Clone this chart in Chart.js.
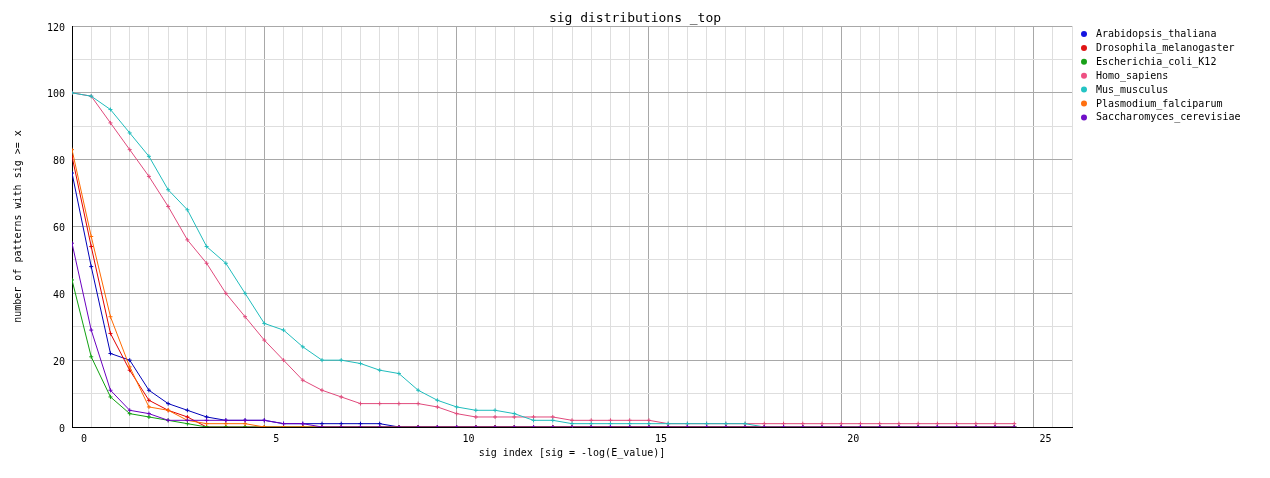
<!DOCTYPE html>
<html>
<head>
<meta charset="utf-8">
<script src="https://cdn.jsdelivr.net/npm/chart.js@4.4.1/dist/chart.umd.min.js"></script>
<style>
    html, body { margin: 0; padding: 0; background: #fff; }
    #wrap { width: 1270px; height: 478px; }
</style>
</head>
<body>
<div id="wrap"><canvas id="sigChart" width="1270" height="478"></canvas></div>
<script>
// sig index (x) values
const sigIndex = [0, 0.5, 1, 1.5, 2, 2.5, 3, 3.5, 4, 4.5, 5, 5.5, 6, 6.5, 7, 7.5, 8, 8.5, 9, 9.5,
    10, 10.5, 11, 11.5, 12, 12.5, 13, 13.5, 14, 14.5, 15, 15.5, 16, 16.5, 17, 17.5, 18, 18.5, 19, 19.5,
    20, 20.5, 21, 21.5, 22, 22.5, 23, 23.5, 24, 24.5];

const speciesNames = ["Arabidopsis_thaliana", "Drosophila_melanogaster", "Escherichia_coli_K12",
    "Homo_sapiens", "Mus_musculus", "Plasmodium_falciparum", "Saccharomyces_cerevisiae"];

// number of patterns with sig >= x
const arabidopsis = [76, 48, 22, 20, 11, 7, 5, 3, 2, 2, 2, 1, 1, 1, 1, 1, 1, 0, 0, 0,
    0, 0, 0, 0, 0, 0, 0, 0, 0, 0, 0, 0, 0, 0, 0, 0, 0, 0, 0, 0,
    0, 0, 0, 0, 0, 0, 0, 0, 0, 0];
const drosophila = [81, 54, 28, 17, 8, 5, 3, 0, 0, 0, 0, 0, 0, 0, 0, 0, 0, 0, 0, 0,
    0, 0, 0, 0, 0, 0, 0, 0, 0, 0, 0, 0, 0, 0, 0, 0, 0, 0, 0, 0,
    0, 0, 0, 0, 0, 0, 0, 0, 0, 0];
const ecoli = [44, 21, 9, 4, 3, 2, 1, 0, 0, 0, 0, 0, 0, 0, 0, 0, 0, 0, 0, 0,
    0, 0, 0, 0, 0, 0, 0, 0, 0, 0, 0, 0, 0, 0, 0, 0, 0, 0, 0, 0,
    0, 0, 0, 0, 0, 0, 0, 0, 0, 0];
const homo = [100, 99, 91, 83, 75, 66, 56, 49, 40, 33, 26, 20, 14, 11, 9, 7, 7, 7, 7, 6,
    4, 3, 3, 3, 3, 3, 2, 2, 2, 2, 2, 1, 1, 1, 1, 1, 1, 1, 1, 1,
    1, 1, 1, 1, 1, 1, 1, 1, 1, 1];
const mus = [100, 99, 95, 88, 81, 71, 65, 54, 49, 40, 31, 29, 24, 20, 20, 19, 17, 16, 11, 8,
    6, 5, 5, 4, 2, 2, 1, 1, 1, 1, 1, 1, 1, 1, 1, 1, 0, 0, 0, 0,
    0, 0, 0, 0, 0, 0, 0, 0, 0, 0];
const plasmodium = [83, 57, 33, 18, 6, 5, 2, 1, 1, 1, 0, 0, 0, 0, 0, 0, 0, 0, 0, 0,
    0, 0, 0, 0, 0, 0, 0, 0, 0, 0, 0, 0, 0, 0, 0, 0, 0, 0, 0, 0,
    0, 0, 0, 0, 0, 0, 0, 0, 0, 0];
const saccharomyces = [55, 29, 11, 5, 4, 2, 2, 2, 2, 2, 2, 1, 1, 0, 0, 0, 0, 0, 0, 0,
    0, 0, 0, 0, 0, 0, 0, 0, 0, 0, 0, 0, 0, 0, 0, 0, 0, 0, 0, 0,
    0, 0, 0, 0, 0, 0, 0, 0, 0, 0];

const seriesValues = [arabidopsis, drosophila, ecoli, homo, mus, plasmodium, saccharomyces];
const lineColors = ["#0000b8", "#e00000", "#10a010", "#e04a7c", "#20bcbc", "#ff6a00", "#6a00c0"];
const dotColors = ["#1414e0", "#e01414", "#18a018", "#ee5082", "#24c4c4", "#ff7010", "#7010c8"];

const monoFont = "'DejaVu Sans Mono', 'Liberation Mono', monospace";

// title + legend drawn by hand, the old chart had them in fixed spots
const extrasPlugin = {
    id: "extras",
    afterDraw(chart) {
        const ctx = chart.ctx;
        ctx.save();
        ctx.fillStyle = "#000";
        ctx.font = "13px " + monoFont;
        ctx.textAlign = "center";
        ctx.textBaseline = "middle";
        ctx.fillText("sig distributions _top", 635, 19);

        ctx.font = "10px " + monoFont;
        ctx.textAlign = "left";
        chart.data.datasets.forEach((ds, i) => {
            let y = 34 + i * 13.9;
            ctx.fillStyle = dotColors[i];
            ctx.beginPath();
            ctx.arc(1084, y, 3, 0, Math.PI * 2);
            ctx.fill();
            ctx.fillStyle = "#000";
            ctx.fillText(ds.label, 1096, y + 0.5);
        });
        ctx.restore();
    },
};

const ctx = document.getElementById("sigChart");

new Chart(ctx, {
    type: "line",
    data: {
        datasets: speciesNames.map((name, i) => {
            return {
                label: name,
                data: sigIndex.map((x, j) => ({x: x, y: seriesValues[i][j]})),
                borderColor: lineColors[i],
                backgroundColor: lineColors[i],
                borderWidth: 1,
                pointStyle: "cross",
                pointRadius: 2,
                pointBorderWidth: 1,
                tension: 0,
                fill: false,
                order: speciesNames.length - i,
            };
        }),
    },
    options: {
        responsive: false,
        animation: false,
        layout: {
            padding: {top: 26, right: 198, bottom: 0, left: 0},
        },
        scales: {
            x: {
                type: "linear",
                min: 0,
                max: 26,
                afterFit: (scale) => { scale.height = 51; },
                grid: {
                    drawTicks: false,
                    color: (c) => (c.tick.value % 5 === 0 ? "#a8a8a8" : "#dedede"),
                },
                border: {color: "#000", width: 1},
                ticks: {
                    stepSize: 0.5,
                    autoSkip: false,
                    maxRotation: 0,
                    padding: 6,
                    labelOffset: 12,
                    color: "#000",
                    font: {family: monoFont, size: 10},
                    callback: (v) => (v % 5 === 0 ? String(v) : ""),
                },
                title: {
                    display: true,
                    text: "sig index [sig = -log(E_value)]",
                    color: "#000",
                    font: {family: monoFont, size: 10},
                    padding: {top: 0, bottom: 19},
                },
            },
            y: {
                min: 0,
                max: 120,
                afterFit: (scale) => { scale.width = 72; },
                grid: {
                    drawTicks: false,
                    color: (c) => (c.tick.value % 20 === 0 ? "#a8a8a8" : "#dedede"),
                },
                border: {color: "#000", width: 1},
                ticks: {
                    stepSize: 10,
                    padding: 7,
                    labelOffset: 2,
                    color: "#000",
                    font: {family: monoFont, size: 10},
                    callback: (v) => (v % 20 === 0 ? String(v) : ""),
                },
                title: {
                    display: true,
                    text: "number of patterns with sig >= x",
                    color: "#000",
                    font: {family: monoFont, size: 10},
                    padding: {top: 12, bottom: 0},
                },
            },
        },
        plugins: {
            legend: {display: false},
            tooltip: {enabled: false},
        },
    },
    plugins: [extrasPlugin],
});
</script>
</body>
</html>
